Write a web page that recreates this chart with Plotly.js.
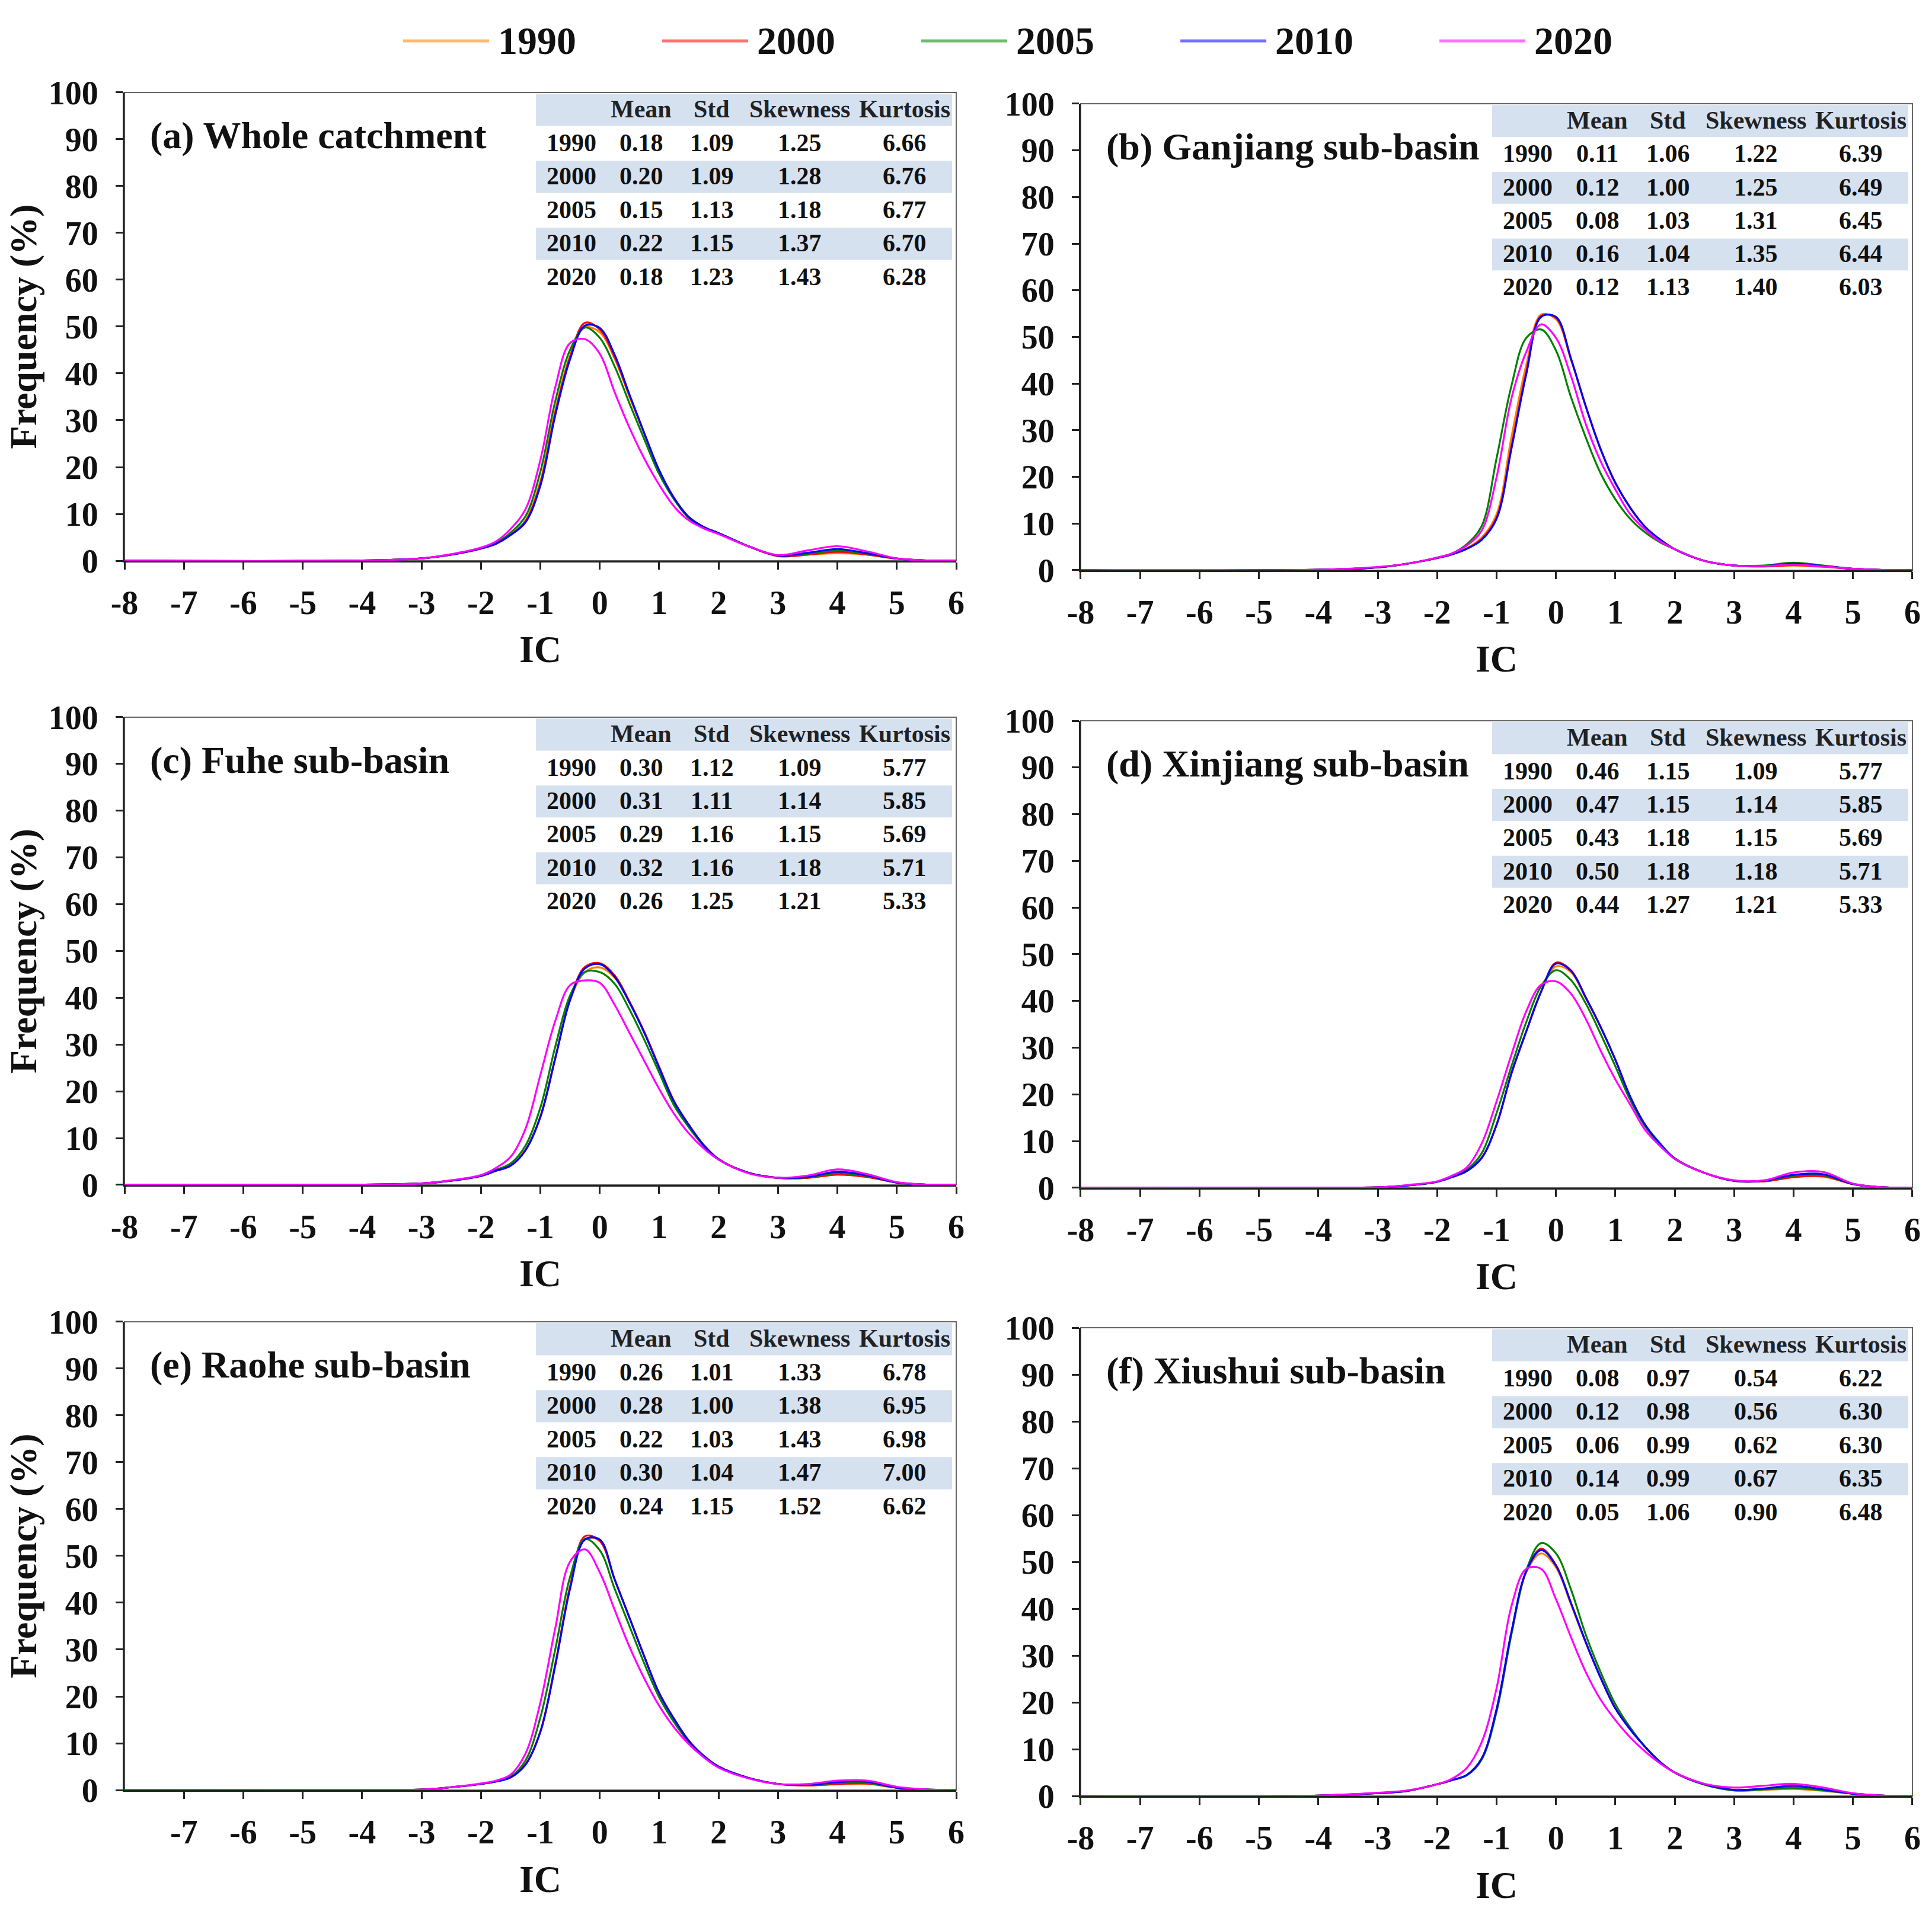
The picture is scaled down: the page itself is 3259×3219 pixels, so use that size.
<!DOCTYPE html>
<html><head><meta charset="utf-8">
<script src="https://cdn.plot.ly/plotly-3.0.1.min.js"></script>
<style>html,body{margin:0;padding:0;background:#fff}#chart{width:3259px;height:3219px}</style>
</head><body><div id="chart"></div>
<script>
// ---------- data ----------
const IC = [-8,-4,-3,-2.5,-2,-1.75,-1.5,-1.25,-1,-0.75,-0.5,-0.25,0,0.25,0.5,0.75,1,1.25,1.5,1.75,2,2.5,3,3.5,4,4.5,5,5.5,6];
const YEARS = ['1990','2000','2005','2010','2020'];
const COLORS = ['#FF8000','#FF0000','#008000','#0000FF','#FF00FF'];
const X_TICKS = [-8,-7,-6,-5,-4,-3,-2,-1,0,1,2,3,4,5,6];
const X_TICKS_E = [-7,-6,-5,-4,-3,-2,-1,0,1,2,3,4,5,6];
const Y_TICKS = [0,10,20,30,40,50,60,70,80,90,100];
const STAT_HEADERS = ['','Mean','Std','Skewness','Kurtosis'];
const PANEL_TITLES = ['(a) Whole catchment','(b) Ganjiang sub-basin','(c) Fuhe sub-basin','(d) Xinjiang sub-basin','(e) Raohe sub-basin','(f) Xiushui sub-basin'];

// (a) Whole catchment
const A1990 = [0,0.05,0.5,1.3,2.6,3.6,5.6,8.6,17,32,43.8,49.8,48.8,43.2,35,27.1,19.2,13.4,9.3,7.2,5.9,3.1,1.0,1.3,1.6,1.3,0.45,0.05,0];
const A2000 = [0,0.05,0.5,1.3,2.6,3.6,5.5,8.4,16.5,31.5,43.5,50.8,49.4,43.5,35.3,27.2,19.3,13.4,9.3,7.2,5.9,3.1,1.0,1.3,1.9,1.3,0.45,0.05,0];
const A2005 = [0,0.05,0.5,1.3,2.7,3.8,6.0,9.5,19,34,45,49.8,47.6,41.5,33.6,25.9,18.5,13.1,9.1,7.1,5.9,3.1,1.1,1.5,2.15,1.5,0.45,0.05,0];
const A2010 = [0,0.05,0.5,1.3,2.6,3.6,5.5,8.2,16,31,43,50.2,49.7,44,35.5,27.2,19.3,13.4,9.3,7.2,5.9,3.1,1.1,1.7,2.5,1.6,0.45,0.05,0];
const A2020 = [0,0.05,0.5,1.4,2.8,4.1,6.8,11,21.5,37,46.5,47.3,44.2,36,28.4,21.8,16.2,11.6,8.6,6.9,5.7,3.1,1.2,2.2,3.1,2.0,0.5,0.05,0];
// (b) Ganjiang
const B1990 = [0,0.1,0.6,1.4,2.6,3.5,4.7,7.0,12,28.5,44,54.8,53.8,45.3,35.2,26,18.7,13.4,9.3,6.6,4.5,2.0,1.0,0.8,1.0,0.7,0.3,0.05,0];
const B2000 = [0,0.1,0.6,1.4,2.6,3.4,4.6,6.7,11.3,26.5,42.5,54.5,54.1,45.3,35.2,26,18.7,13.4,9.3,6.6,4.5,2.0,1.0,0.8,1.1,0.8,0.3,0.05,0];
const B2005 = [0,0.1,0.6,1.4,2.7,3.6,5.6,9.5,24,39.5,49.8,51.6,47.1,37.2,28.5,20.8,15.2,11,8.1,6.0,4.5,2.0,1.0,1.0,1.6,1.0,0.3,0.05,0];
const B2010 = [0,0.1,0.6,1.4,2.6,3.4,4.6,6.5,11,26,42,54.3,54.3,45.5,35.2,26,18.7,13.4,9.3,6.6,4.5,2.0,1.0,0.9,1.4,0.9,0.3,0.05,0];
const B2020 = [0,0.1,0.7,1.4,2.7,3.6,5.3,8.5,19.9,36.8,46.8,52.7,49.8,41.7,31.4,23.4,17.3,12,8.7,6.2,4.5,2.0,1.0,0.9,1.2,0.8,0.3,0.05,0];
// (c) Fuhe
const C1990 = [0,0.05,0.3,0.9,1.9,3.0,4.2,7.6,14.7,27.2,39.5,45.5,46.5,44.3,39,32.6,25.2,17.9,12.8,8.5,5.5,2.6,1.5,1.5,2.2,1.7,0.5,0.05,0];
const C2000 = [0,0.05,0.3,0.9,1.9,3.0,4.1,7.4,14.5,27,39.7,46.6,47.4,44.8,39.2,32.7,25.2,17.9,12.8,8.5,5.5,2.6,1.5,1.5,2.2,1.7,0.5,0.05,0];
const C2005 = [0,0.05,0.3,0.9,2.0,3.2,4.6,8.4,16.5,29.5,40.5,45.5,45.5,43,37.5,31,24,17,12.3,8.3,5.4,2.6,1.5,1.6,2.5,1.9,0.5,0.05,0];
const C2010 = [0,0.05,0.3,0.9,1.9,3.0,4.1,7.4,14.5,27,39.5,46.3,47.2,44.5,39,32.5,25,17.8,12.8,8.5,5.5,2.6,1.5,1.7,2.8,2.0,0.5,0.05,0];
const C2020 = [0,0.05,0.3,1.0,2.1,3.6,6.0,12,23.5,35,42.7,43.7,43.2,38.5,32.5,26.5,20.5,15.2,11,7.8,5.4,2.5,1.5,2.0,3.3,2.3,0.6,0.05,0];
// (d) Xinjiang
const D1990 = [0,0.02,0.1,0.5,1.3,2.3,3.6,6.5,13.5,24.5,33.5,42,47.4,46.2,40.6,34.4,27.4,19.5,13.5,9.5,6.3,3.2,1.5,1.4,2.3,2.4,0.8,0.1,0];
const D2000 = [0,0.02,0.1,0.5,1.3,2.3,3.6,6.4,13.5,24.5,33.5,42,48.2,46.6,40.8,34.5,27.4,19.5,13.5,9.5,6.3,3.2,1.5,1.4,2.3,2.5,0.8,0.1,0];
const D2005 = [0,0.02,0.1,0.5,1.3,2.4,3.9,7.4,16,26,35.5,43.2,46.6,44.5,39.5,33,26,18.8,13.2,9.3,6.2,3.2,1.5,1.5,2.6,2.7,0.8,0.1,0];
const D2010 = [0,0.02,0.1,0.5,1.3,2.3,3.6,6.4,13.5,24.5,33.5,42,48,46.5,40.8,34.5,27.4,19.5,13.5,9.5,6.3,3.2,1.5,1.5,2.8,2.9,0.8,0.1,0];
const D2020 = [0,0.02,0.1,0.6,1.4,2.6,4.4,9.5,18.5,28.5,37.8,43.5,44.2,41.6,36.2,29.4,23.2,17.8,12.4,9,6.2,3.2,1.6,1.6,3.3,3.4,0.9,0.1,0];
// (e) Raohe
const E1990 = [0,0.02,0.1,0.6,1.3,1.8,2.7,5.5,12.5,26.8,43.3,53.6,53.2,45,36.8,28.5,20.7,15.2,10.5,7.3,5,2.6,1.3,1.0,1.2,1.3,0.5,0.1,0];
const E2000 = [0,0.02,0.1,0.6,1.3,1.8,2.7,5.5,12.5,26.8,43.5,54.2,53.2,45,36.8,28.5,20.7,15.2,10.5,7.3,5,2.6,1.3,1.0,1.3,1.4,0.5,0.1,0];
const E2005 = [0,0.02,0.1,0.6,1.3,1.9,2.9,6.3,15.5,30,45.5,53.6,51.2,43,35,27,19.8,14.5,10.2,7.1,4.9,2.6,1.3,1.1,1.5,1.5,0.5,0.1,0];
const E2010 = [0,0.02,0.1,0.6,1.3,1.8,2.7,5.4,12.4,26.5,43,53.5,53.5,45,36.8,28.5,20.7,15.2,10.5,7.3,5,2.6,1.3,1.1,1.7,1.8,0.5,0.1,0];
const E2020 = [0,0.02,0.1,0.6,1.4,2.0,3.3,7.8,18.7,34.5,48.8,51.4,46.5,38.5,30.6,23.8,18,13.4,9.8,7,4.8,2.5,1.3,1.3,2.0,2.0,0.7,0.1,0];
// (f) Xiushui
const F1990 = [0,0.1,0.6,1.1,2.5,3.4,4.5,8.0,18.3,34.8,47.8,51.8,48.8,41,32.8,25.3,18.7,14.2,10.5,7.3,5,2.5,1.2,1.3,1.5,1.1,0.5,0.1,0];
const F2000 = [0,0.1,0.6,1.1,2.5,3.4,4.5,8.0,18.5,35,48,52.8,49.3,41.3,32.9,25.3,18.7,14.2,10.5,7.3,5,2.5,1.3,1.5,2.0,1.3,0.5,0.1,0];
const F2005 = [0,0.1,0.6,1.1,2.5,3.4,4.4,7.8,18,34.5,48.2,54,51.8,44.2,34.5,26.5,19.6,14.6,10.5,7.3,5,2.4,1.2,1.4,1.7,1.2,0.5,0.1,0];
const F2010 = [0,0.1,0.6,1.1,2.5,3.4,4.5,8.0,18.5,35,48,52.5,49.2,41.3,32.9,25.3,18.7,14.2,10.5,7.3,5,2.5,1.3,1.6,2.2,1.4,0.5,0.1,0];
const F2020 = [0,0.1,0.7,1.2,2.5,3.7,6.0,11.5,23,40.5,48.5,48.5,42,34,26.5,20.6,16.2,12.5,9.5,7,5,2.6,1.8,2.2,2.6,1.8,0.6,0.1,0];

// statistics tables
const MEAN_A = [0.18,0.20,0.15,0.22,0.18], STD_A = [1.09,1.09,1.13,1.15,1.23], SKEW_A = [1.25,1.28,1.18,1.37,1.43], KURT_A = [6.66,6.76,6.77,6.70,6.28];
const MEAN_B = [0.11,0.12,0.08,0.16,0.12], STD_B = [1.06,1.00,1.03,1.04,1.13], SKEW_B = [1.22,1.25,1.31,1.35,1.40], KURT_B = [6.39,6.49,6.45,6.44,6.03];
const MEAN_C = [0.30,0.31,0.29,0.32,0.26], STD_C = [1.12,1.11,1.16,1.16,1.25], SKEW_C = [1.09,1.14,1.15,1.18,1.21], KURT_C = [5.77,5.85,5.69,5.71,5.33];
const MEAN_D = [0.46,0.47,0.43,0.50,0.44], STD_D = [1.15,1.15,1.18,1.18,1.27], SKEW_D = [1.09,1.14,1.15,1.18,1.21], KURT_D = [5.77,5.85,5.69,5.71,5.33];
const MEAN_E = [0.26,0.28,0.22,0.30,0.24], STD_E = [1.01,1.00,1.03,1.04,1.15], SKEW_E = [1.33,1.38,1.43,1.47,1.52], KURT_E = [6.78,6.95,6.98,7.00,6.62];
const MEAN_F = [0.08,0.12,0.06,0.14,0.05], STD_F = [0.97,0.98,0.99,0.99,1.06], SKEW_F = [0.54,0.56,0.62,0.67,0.90], KURT_F = [6.22,6.30,6.30,6.35,6.48];

// ---------- layout helpers ----------
const FONT = 'Liberation Serif, Times New Roman, serif';
const panels = [
  {series:[A1990,A2000,A2005,A2010,A2020], stats:[MEAN_A,STD_A,SKEW_A,KURT_A], xd:[0.06444,0.49494], yd:[0.70612,0.95154], ytitle:true, xt:X_TICKS},
  {series:[B1990,B2000,B2005,B2010,B2020], stats:[MEAN_B,STD_B,SKEW_B,KURT_B], xd:[0.55937,0.98987], yd:[0.70115,0.94564], ytitle:false, xt:X_TICKS},
  {series:[C1990,C2000,C2005,C2010,C2020], stats:[MEAN_C,STD_C,SKEW_C,KURT_C], xd:[0.06444,0.49494], yd:[0.37900,0.62411], ytitle:true, xt:X_TICKS},
  {series:[D1990,D2000,D2005,D2010,D2020], stats:[MEAN_D,STD_D,SKEW_D,KURT_D], xd:[0.55937,0.98987], yd:[0.37745,0.62224], ytitle:false, xt:X_TICKS},
  {series:[E1990,E2000,E2005,E2010,E2020], stats:[MEAN_E,STD_E,SKEW_E,KURT_E], xd:[0.06444,0.49494], yd:[0.06182,0.30724], ytitle:true, xt:X_TICKS_E},
  {series:[F1990,F2000,F2005,F2010,F2020], stats:[MEAN_F,STD_F,SKEW_F,KURT_F], xd:[0.55937,0.98987], yd:[0.05871,0.30413], ytitle:false, xt:X_TICKS}
];

const traces = [];
const layout = {
  width: 3259, height: 3219,
  margin: {l:0, r:0, t:0, b:0},
  paper_bgcolor: '#ffffff', plot_bgcolor: '#ffffff',
  showlegend: false,
  font: {family: FONT, color: '#111'},
  shapes: [], annotations: []
};

const ROW_H = 0.0715;
const COL_X = [0.5374, 0.6215, 0.7063, 0.8118, 0.9380];
const TABLE_X0 = 0.4947;
const SHADE = '#D6E1F0';

panels.forEach((p, i) => {
  const n = i + 1;
  const xa = 'x' + (n === 1 ? '' : n), ya = 'y' + (n === 1 ? '' : n);
  const xkey = 'xaxis' + (n === 1 ? '' : n), ykey = 'yaxis' + (n === 1 ? '' : n);
  p.series.forEach((vals, k) => {
    traces.push({
      type: 'scatter', mode: 'lines', x: IC, y: vals, name: YEARS[k],
      xaxis: xa, yaxis: ya, showlegend: false,
      line: {color: COLORS[k], width: 3.2, shape: 'spline', smoothing: 1.0},
      hoverinfo: 'x+y+name'
    });
  });
  layout[xkey] = {
    domain: p.xd, anchor: ya, range: [-8, 6], tickvals: p.xt, ticktext: p.xt.map(String),
    ticks: 'outside', ticklen: 12, tickwidth: 3, tickcolor: '#222',
    showline: true, linecolor: '#222', linewidth: 3, showgrid: false, zeroline: false,
    tickfont: {family: FONT, size: 56, weight: 'bold', color: '#111'},
    ticklabelstandoff: 8,
    title: {text: 'IC', font: {family: FONT, size: 64, weight: 'bold', color: '#111'}, standoff: 26}
  };
  layout[ykey] = {
    domain: p.yd, anchor: xa, range: [0, 100], tickvals: Y_TICKS,
    ticks: 'outside', ticklen: 12, tickwidth: 3, tickcolor: '#222',
    showline: true, linecolor: '#222', linewidth: 3, showgrid: false, zeroline: false,
    tickfont: {family: FONT, size: 56, weight: 'bold', color: '#111'},
    ticklabelstandoff: 18,
    title: p.ytitle ? {text: 'Frequency (%)', font: {family: FONT, size: 64, weight: 'bold', color: '#111'}, standoff: 0} : {text: ''}
  };
  // frame
  layout.shapes.push({type: 'rect', xref: xa + ' domain', yref: ya + ' domain', x0: 0, x1: 1, y0: 0, y1: 1,
    line: {color: '#666', width: 2}, layer: 'below'});
  // table shading (header, 2000, 2010 rows)
  [0, 2, 4].forEach(r => {
    layout.shapes.push({type: 'rect', xref: xa + ' domain', yref: ya + ' domain',
      x0: TABLE_X0, x1: 0.995, y0: 1 - (r + 1) * ROW_H, y1: 1 - r * ROW_H - 0.003,
      fillcolor: SHADE, line: {width: 0}, layer: 'below'});
  });
  // header
  STAT_HEADERS.forEach((h, c) => {
    if (!h) return;
    layout.annotations.push({xref: xa + ' domain', yref: ya + ' domain', x: COL_X[c], y: 1 - 0.5 * ROW_H,
      text: h, showarrow: false, xanchor: 'center', yanchor: 'middle',
      font: {family: FONT, size: 42, weight: 'bold', color: '#222'}});
  });
  // rows
  YEARS.forEach((yr, r) => {
    const cells = [yr].concat(p.stats.map(col => col[r].toFixed(2)));
    cells.forEach((txt, c) => {
      layout.annotations.push({xref: xa + ' domain', yref: ya + ' domain', x: COL_X[c], y: 1 - (r + 1.5) * ROW_H,
        text: txt, showarrow: false, xanchor: 'center', yanchor: 'middle',
        font: {family: FONT, size: 42, weight: 'bold', color: '#111'}});
    });
  });
  // panel label
  layout.annotations.push({xref: xa + ' domain', yref: ya + ' domain', x: 0.029, y: 0.908,
    text: PANEL_TITLES[i], showarrow: false, xanchor: 'left', yanchor: 'middle',
    font: {family: FONT, size: 64, weight: 'bold', color: '#111'}});
});

// custom legend across the top
const LEG_X0 = 0.20865, LEG_STEP = 0.1341, LEG_LEN = 0.0445, LEG_Y = 0.9786;
YEARS.forEach((yr, k) => {
  const x0 = LEG_X0 + k * LEG_STEP;
  layout.shapes.push({type: 'line', xref: 'paper', yref: 'paper', x0: x0, x1: x0 + LEG_LEN, y0: LEG_Y, y1: LEG_Y,
    line: {color: COLORS[k], width: 5}, opacity: 0.55});
  layout.annotations.push({xref: 'paper', yref: 'paper', x: x0 + LEG_LEN + 0.004, y: LEG_Y,
    text: yr, showarrow: false, xanchor: 'left', yanchor: 'middle',
    font: {family: FONT, size: 66, weight: 'bold', color: '#111'}});
});

Plotly.newPlot('chart', traces, layout, {staticPlot: true, displayModeBar: false});
</script>
</body></html>
